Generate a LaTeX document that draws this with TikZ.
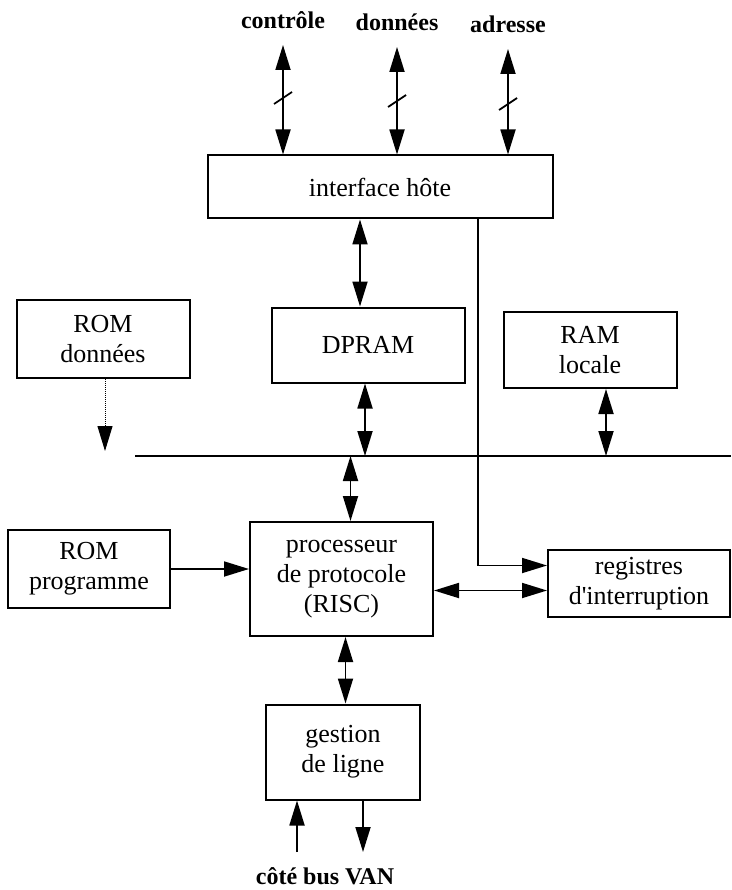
\documentclass[tikz,border=0pt]{standalone}
\usepackage{fontspec}
\setmainfont{Liberation Serif}
\usetikzlibrary{arrows.meta}
\begin{document}
\begin{tikzpicture}[x=1pt,y=-1pt,
  blk/.style={draw, line width=2pt, rectangle, align=center, inner sep=0pt,
              font=\fontsize{26}{30}\selectfont},
  lbl/.style={font=\bfseries\fontsize{24}{28}\selectfont, inner sep=0pt},
  link/.style={line width=1.8pt},
  tip/.style={-{Triangle[length=25pt,width=15pt]}},
  both/.style={{Triangle[length=25pt,width=15pt]}-{Triangle[length=25pt,width=15pt]}},
]
\useasboundingbox (0,0) rectangle (731,890);

% blocks
\node[blk, minimum width=345pt, minimum height=63pt] (iface) at (380,187) {interface hôte};
\node[blk, minimum width=193pt, minimum height=75pt] (dpram) at (368,345) {DPRAM};
\node[blk, minimum width=173pt, minimum height=78pt] (romd) at (103,339) {ROM\\données};
\node[blk, minimum width=173pt, minimum height=76pt] (ram) at (590,350) {RAM\\locale};
\node[blk, minimum width=183pt, minimum height=114pt] (proc) at (341.5,579) {processeur\\de protocole\\(RISC)};
\node[blk, minimum width=162pt, minimum height=78pt] (romp) at (89,569) {ROM\\programme};
\node[blk, minimum width=182pt, minimum height=67pt] (reg) at (639,583.5) {registres\\d\textquotesingle interruption};
\node[blk, minimum width=154pt, minimum height=95pt] (gest) at (343,752) {gestion\\de ligne};

% host bus labels and links
\node[lbl] (ctrl) at (283,20) {contrôle};
\node[lbl] (data) at (397,22) {données};
\node[lbl] (addr) at (508,24) {adresse};
\coordinate (ctrlTop) at (283,45);
\coordinate (dataTop) at (397,47);
\coordinate (addrTop) at (508,49);
\draw[link,both] (ctrlTop) -- (ctrlTop |- iface.north);
\draw[link,both] (dataTop) -- (dataTop |- iface.north);
\draw[link,both] (addrTop) -- (addrTop |- iface.north);
% bus width marks
\coordinate (s1) at (283,98);
\coordinate (s2) at (397,101);
\coordinate (s3) at (508,104);
\foreach \s in {s1,s2,s3}
  \draw[link] ([shift={(-9pt,-6pt)}]\s) -- ([shift={(9pt,6pt)}]\s);

% internal bus
\coordinate (busL) at (135,456);
\coordinate (busR) at (731,456);
\draw[link] (busL) -- (busR);

\coordinate (dpIn) at ([xshift=-8pt]dpram.north);
\coordinate (dpOut) at ([xshift=-3pt]dpram.south);
\coordinate (ramOut) at ([xshift=16pt]ram.south);
\coordinate (procIn) at ([xshift=9pt]proc.north);
\coordinate (procOut) at ([xshift=4pt]proc.south);
\coordinate (regIrq) at ([yshift=18pt]reg.west);
\coordinate (regData) at ([yshift=-7pt]reg.west);
\coordinate (ifaceIrq) at ([xshift=98pt]iface.south);

\draw[link,both] (dpIn |- iface.south) -- (dpIn);
\draw[link,both] (dpOut) -- (dpOut |- busL);
\draw[link,both] (ramOut) -- (ramOut |- busL);
\draw[link,both] (procIn |- busL) -- (procIn);
\draw[line width=1pt, densely dotted, tip] ([xshift=2pt]romd.south) -- ++(0,72);

% processor links
\draw[link,tip] (romp.east) -- (proc.west |- romp.east);
\draw[link,both] (proc.east |- regData) -- (regData);
\draw[link,tip] (ifaceIrq) |- (regIrq);
\draw[link,both] (procOut) -- (procOut |- gest.north);

% line side
\coordinate (vanIn) at (297,852);
\coordinate (vanOut) at (363,852);
\draw[link,tip] (vanIn) -- (vanIn |- gest.south);
\draw[link,tip] (vanOut |- gest.south) -- (vanOut);
\node[lbl] (van) at (325,876) {côté bus VAN};
\end{tikzpicture}
\end{document}
